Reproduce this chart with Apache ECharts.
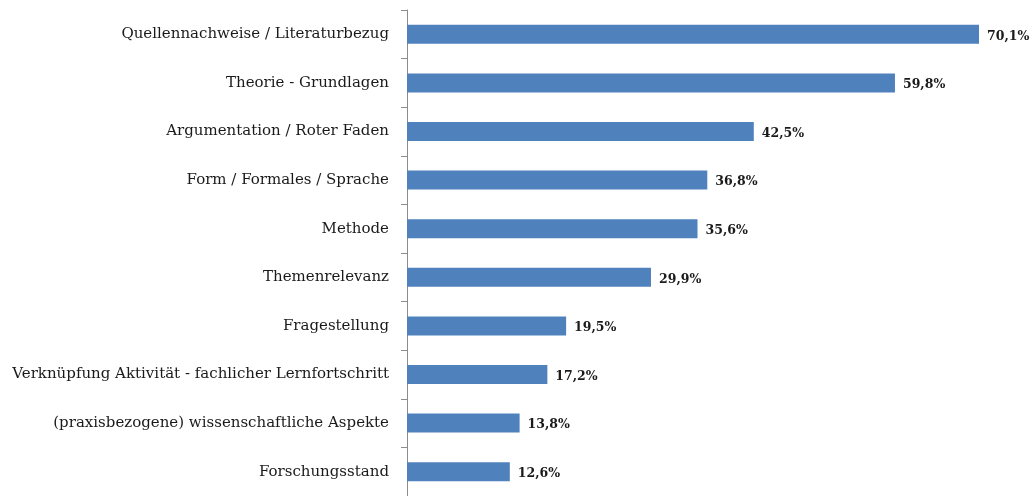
<!DOCTYPE html>
<html>
<head>
<meta charset="utf-8">
<script src="https://cdn.jsdelivr.net/npm/echarts@6/dist/echarts.min.js"></script>
<style>
  html, body { margin: 0; padding: 0; background: #fff; }
  #chart { width: 1030px; height: 496px; }
</style>
</head>
<body>
<div id="chart"></div>
<script>
// Kategorien von oben nach unten
var categories = [
  'Quellennachweise / Literaturbezug',
  'Theorie - Grundlagen',
  'Argumentation / Roter Faden',
  'Form / Formales / Sprache',
  'Methode',
  'Themenrelevanz',
  'Fragestellung',
  'Verknüpfung Aktivität - fachlicher Lernfortschritt',
  '(praxisbezogene) wissenschaftliche Aspekte',
  'Forschungsstand'
];
var values = [70.1, 59.8, 42.5, 36.8, 35.6, 29.9, 19.5, 17.2, 13.8, 12.6];

var chart = echarts.init(document.getElementById('chart'));
chart.setOption({
  animation: false,
  grid: { left: 407, right: 11, top: 10, bottom: -3 },
  xAxis: {
    type: 'value',
    min: 0,
    max: 75,
    show: false
  },
  yAxis: {
    type: 'category',
    inverse: true,
    data: categories,
    axisLine: { show: true, lineStyle: { color: '#8c8c8c', width: 1 } },
    axisTick: { show: true, length: 6, lineStyle: { color: '#8c8c8c' } },
    axisLabel: {
      margin: 18,
      color: '#1a1a1a',
      fontFamily: 'DejaVu Serif',
      fontSize: 15
    }
  },
  series: [{
    type: 'bar',
    data: values,
    barWidth: 19,
    itemStyle: { color: '#4F81BD' },
    label: {
      show: true,
      position: 'right',
      distance: 8,
      offset: [0, 2],
      color: '#1a1a1a',
      fontFamily: 'DejaVu Serif',
      fontWeight: 'bold',
      fontSize: 12.5,
      formatter: function (p) { return p.value.toFixed(1).replace('.', ',') + '%'; }
    }
  }]
});
</script>
</body>
</html>
